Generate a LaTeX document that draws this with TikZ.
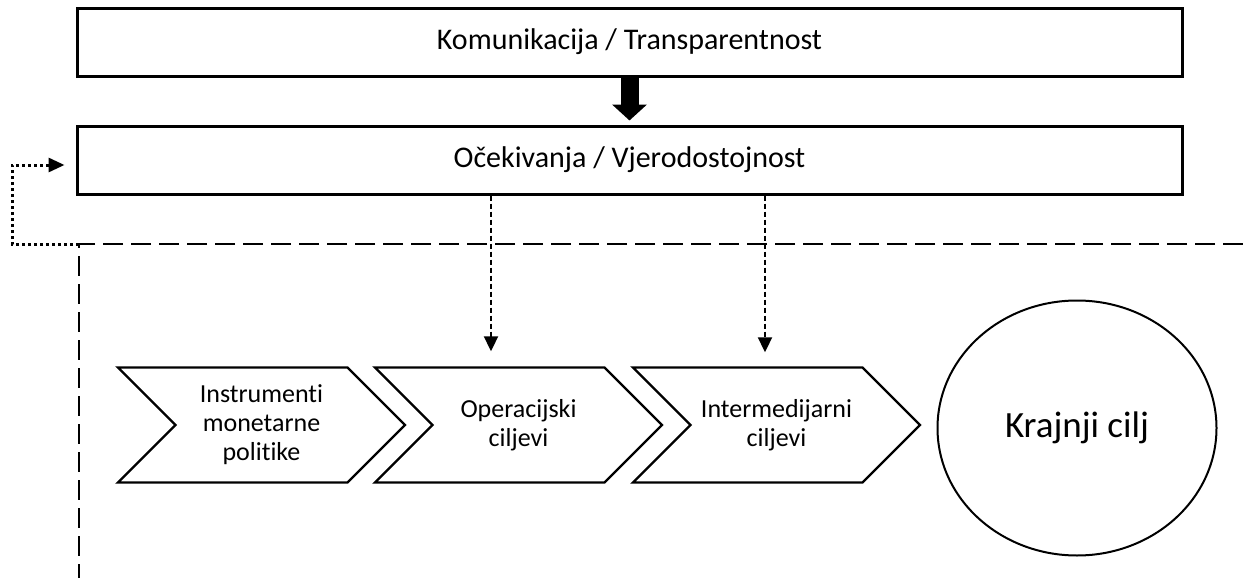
\documentclass[tikz,border=0pt]{standalone}
\usepackage{fontspec}
\setmainfont{Carlito}[Ligatures={NoCommon}]
\usetikzlibrary{positioning}
\usetikzlibrary{calc}
\usetikzlibrary{arrows.meta}
\usetikzlibrary{shapes.symbols}
\usetikzlibrary{shapes.geometric}

\begin{document}
\begin{tikzpicture}[x=0.5pt,y=-0.5pt]
      \tikzstyle{box} = [draw, line width=1.5pt, minimum width=552.5pt, minimum height=34pt, inner sep=0pt, font=\fontsize{15}{18}\selectfont]
      \tikzstyle{stage} = [draw, line width=1.2pt, signal, signal from=west, signal to=east, minimum width=143.5pt, minimum height=57.5pt, inner sep=0pt, align=center, font=\fontsize{13}{14.5}\selectfont]
      \tikzstyle{goal} = [draw, line width=1pt, ellipse, minimum width=139.5pt, minimum height=127.5pt, inner sep=0pt, font=\fontsize{18.5}{22}\selectfont]
      \tikzstyle{bigarrow} = [line width=9pt, -{Triangle[width=17pt,length=8pt]}, shorten >=2pt]
      \tikzstyle{influence} = [line width=1pt, dash pattern=on 2.5pt off 1.5pt, -{Triangle[width=7pt,length=7.5pt]}]
      \tikzstyle{border} = [line width=1.2pt, dash pattern=on 10pt off 4pt]
      \tikzstyle{feedback} = [line width=1.5pt, dash pattern=on 1.5pt off 1.5pt, -{Triangle[width=7pt,length=8pt]}, shorten >=5.5pt]

      \useasboundingbox (0,0) rectangle (1243,578);

      \node (komunikacija) [box] at (629.5,42) {Komunikacija / Transparentnost};
      \node (ocekivanja) [box, below = 23.5pt of komunikacija] {Očekivanja / Vjerodostojnost};

      \node (instrumenti) [stage] at (261.5,425) {Instrumenti\\monetarne\\politike};
      \node (operacijski) [stage] at (518.5,425) {Operacijski\\ciljevi};
      \node (intermedijarni) [stage] at (776.5,425) {Intermedijarni\\ciljevi};
      \node (cilj) [goal] at (1077,428) {Krajnji cilj};

      \draw [bigarrow] (komunikacija.south) -- (ocekivanja.north);

      \coordinate (opTop) at ($(operacijski.north)+(-27.5,0)$);
      \coordinate (imTop) at ($(intermedijarni.north)+(-11.5,0)$);
      \draw [influence, shorten >=7.5pt] (ocekivanja.south -| opTop) -- (opTop);
      \draw [influence, shorten >=7pt] (ocekivanja.south -| imTop) -- (imTop);

      % border of the monetary policy area
      \coordinate (corner) at (79,244);
      \draw [border] (1243,244) -- (corner) -- (79,578);

      \coordinate (loopLeft) at (12,244);
      \draw [feedback] (corner) -- (loopLeft) -- (12,165) -- (ocekivanja.west |- 0,165);
    \end{tikzpicture}
\end{document}
